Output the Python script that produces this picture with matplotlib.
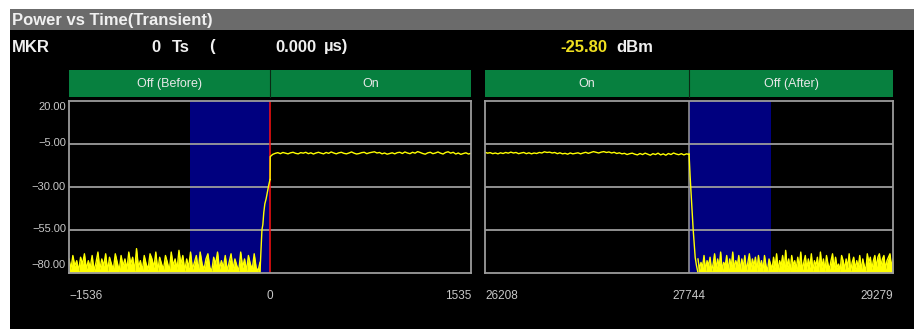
import numpy as np
import matplotlib
matplotlib.use("Agg")
from matplotlib import pyplot as plt
from matplotlib.patches import Rectangle

plt.rcParams['font.family'] = ['Liberation Sans', 'DejaVu Sans']

W, H = 914, 329

# ---- data -------------------------------------------------------------
title = "Power vs Time(Transient)"
mkr_ts = "0"
mkr_us = "0.000"
mkr_dbm = "-25.80"

y_ticks = [20.0, -5.0, -30.0, -55.0, -80.0]
left_span = (-1536, 1535)
right_span = (26208, 29279)
left_marker = 0
right_marker = 27744
left_mask = (-615, 0)
right_mask = (27744, 28360)
left_headers = ["Off (Before)", "On"]
right_headers = ["On", "Off (After)"]

# noise floor before burst (dBm)
left_noise = [
    -72, -78, -70, -76, -73, -79, -71, -75, -69, -78,
    -73, -77, -70, -79, -74, -68, -78, -72, -76, -69,
    -79, -71, -75, -78, -69, -74, -79, -70, -76, -72,
    -78, -68, -75, -71, -79, -66, -77, -73, -79, -70,
    -75, -78, -69, -72, -77, -68, -79, -71, -75, -78,
    -70, -74, -79, -68, -76, -72, -78, -67, -75, -70,
    -79, -72, -77, -68, -78, -74, -70, -79, -68, -75,
    -78, -72, -69, -77, -79, -71, -75, -68, -78, -73,
    -77, -70, -79, -74, -69, -78, -72, -76, -79, -68,
    -77, -72, -79, -70, -75, -78, -69, -77, -79, -74,
]
rise_x = [-77, -70, -62, -55, -48, -40, -30, -20, -10, -4, 0]
rise_y = [-80, -68, -55, -52, -45, -40, -37, -33, -29, -27, -25.8]
on_left = [
    -12.5, -11.2, -10.6, -10.2, -10.8, -10.1, -10.5, -10.9, -10.3, -10.0,
    -10.6, -10.9, -10.2, -10.5, -10.0, -10.8, -10.3, -11.0, -10.4, -10.0,
    -10.5, -10.9, -10.1, -10.6, -9.8, -10.4, -10.9, -10.3, -10.0, -10.6,
    -10.9, -10.4, -9.8, -10.5, -11.0, -10.7, -10.2, -10.0, -10.8, -10.3,
    -10.0, -9.7, -10.4, -10.1, -10.9, -10.4, -11.1, -10.7, -10.3, -10.9,
    -10.2, -10.0, -10.7, -9.8, -10.4, -10.8, -10.0, -10.5, -9.6, -10.1,
    -10.7, -11.1, -10.3, -10.0, -10.8, -10.4, -9.8, -10.5, -11.0, -10.1,
    -9.7, -10.5, -10.0, -11.0, -10.4, -11.2, -10.7, -10.3, -11.0, -10.6,
]
on_right = [
    -10.0, -10.5, -10.2, -10.8, -10.4, -10.9, -10.3, -10.7, -10.1, -10.5,
    -9.9, -10.4, -10.1, -10.8, -10.4, -10.1, -10.8, -10.3, -10.9, -10.4,
    -10.7, -10.1, -10.4, -9.7, -10.1, -9.9, -10.4, -10.1, -10.8, -10.3,
    -10.9, -10.6, -11.1, -10.4, -10.9, -10.6, -10.3, -10.9, -10.4, -10.0,
    -10.6, -10.1, -9.6, -10.0, -10.4, -9.9, -9.6, -10.1, -9.8, -10.4,
    -10.0, -10.7, -10.3, -10.9, -10.6, -11.3, -10.8, -10.5, -11.1, -11.5,
    -10.7, -11.3, -10.5, -11.1, -11.7, -10.8, -11.3, -10.5, -11.5, -10.9,
    -11.7, -10.7, -11.3, -10.4, -11.0, -11.4, -10.8, -11.5, -10.9, -11.2,
]
fall_x = [27744, 27752, 27760, 27775, 27790, 27800, 27811]
fall_y = [-11.0, -24, -35, -55, -71, -76, -80]
right_noise = [
    -72, -78, -74, -77, -70, -79, -73, -76, -71, -79,
    -75, -69, -78, -72, -77, -68, -79, -74, -76, -70,
    -79, -72, -77, -68, -78, -73, -76, -70, -79, -72,
    -77, -70, -79, -74, -69, -78, -72, -76, -71, -79,
    -70, -77, -73, -79, -70, -76, -79, -72, -75, -78,
    -71, -77, -69, -79, -73, -76, -70, -78, -67, -77,
    -72, -79, -70, -76, -73, -78, -71, -77, -68, -79,
    -74, -70, -78, -72, -77, -69, -79, -73, -76, -71,
    -79, -68, -77, -72, -79, -70, -75, -78, -73, -69,
    -78, -71, -77, -75, -79, -70, -73, -78, -72, -77,
    -69, -79, -74, -71, -78, -73, -77, -70, -79, -72,
    -76, -79, -69, -74, -71, -78, -73, -70, -77, -71,
    -69, -76, -72, -70, -78, -73, -71, -69, -77, -72,
]

# ---- figure -----------------------------------------------------------
fig = plt.figure(figsize=(W / 100, H / 100), dpi=100, facecolor='white')


def fx(x):
    return x / W


def fy(y):
    return 1 - y / H


def rect(x0, y0, x1, y1, color, z=-5):
    fig.patches.append(Rectangle((fx(x0), fy(y1)), fx(x1) - fx(x0), fy(y0) - fy(y1),
                                 transform=fig.transFigure, color=color, zorder=z, lw=0))


rect(10, 9, W, H, 'black', z=-10)
rect(10, 9, W, 30, '#6b6b6b')
txt = dict(color='#f0f0f0', fontsize=12, va='center', fontweight='bold')
fig.text(fx(12), fy(20), title, ha='left', **txt)

fig.text(fx(12), fy(47), "MKR", **txt)
fig.text(fx(161), fy(47), mkr_ts, ha='right', **txt)
fig.text(fx(172), fy(47), "Ts", **txt)
fig.text(fx(209), fy(47), "(", **txt)
fig.text(fx(275), fy(47), mkr_us, **txt)
fig.text(fx(324), fy(47), "\u00b5s)", **txt)
fig.text(fx(607), fy(47), mkr_dbm, ha='right', **{**txt, 'color': '#f0e020'})
fig.text(fx(616), fy(47), "dBm", **txt)

green = '#07803f'
grid_c = '#9c9c9c'
yellow = '#ffff00'


def panel(x0, x1, span, marker, mask, headers, mcolor, pieces, noise):
    ax = fig.add_axes([fx(x0), fy(272.7), fx(x1) - fx(x0), fy(100.7) - fy(272.7)])
    ax.set_zorder(5)
    ax.set_facecolor('black')
    ax.set_xlim(*span)
    ax.set_ylim(-80, 20)
    for t in y_ticks[1:-1]:
        ax.axhline(t, color=grid_c, lw=1.3, zorder=1)
    ax.axvspan(*mask, color='#00007f', lw=0, zorder=0)
    ax.axvline(marker, color=mcolor, lw=1.1, zorder=3)
    for xs, ys in pieces:
        ax.plot(xs, ys, color=yellow, lw=1.0, zorder=4)
    nxs, nys = noise
    ax.fill_between(nxs, -80, nys, color=yellow, lw=0, zorder=4)
    ax.plot(nxs, nys, color=yellow, lw=1.0, zorder=4)
    ax.set_xticks([])
    ax.set_yticks([])
    for s in ax.spines.values():
        s.set_color(grid_c)
        s.set_linewidth(1.3)
        s.set_zorder(6)
    # header bars
    xm = x0 + (x1 - x0) * (marker - span[0]) / (span[1] - span[0])
    rect(x0, 70, x1, 97, green)
    fig.add_artist(plt.Line2D([fx(xm), fx(xm)], [fy(70), fy(97)], color='#0a2a14', lw=0.8,
                              transform=fig.transFigure))
    fig.text(fx((x0 + xm) / 2), fy(84), headers[0], color='#e8e8e8', fontsize=9,
             ha='center', va='center')
    fig.text(fx((xm + x1) / 2), fy(84), headers[1], color='#e8e8e8', fontsize=9,
             ha='center', va='center')
    # x labels
    lab = '#c8c8c8'
    fig.text(fx(x0), fy(296), str(span[0]).replace('-', '\u2212'), color=lab, fontsize=8.5,
             ha='left', va='center')
    fig.text(fx(xm), fy(296), str(marker), color=lab, fontsize=8.5, ha='center', va='center')
    fig.text(fx(x1), fy(296), str(span[1]), color=lab, fontsize=8.5, ha='right', va='center')
    return ax


lx = np.linspace(left_span[0], rise_x[0], len(left_noise))
ox = np.linspace(1, left_span[1], len(on_left))
panel(69, 471, left_span, left_marker, left_mask, left_headers, '#ff1010',
      [(rise_x, rise_y), ([0] + list(ox), [rise_y[-1]] + on_left)],
      (lx, left_noise))

rx = np.linspace(right_span[0], fall_x[0], len(on_right))
nx = np.linspace(fall_x[-1], right_span[1], len(right_noise))
panel(485, 893, right_span, right_marker, right_mask, right_headers, grid_c,
      [(rx, on_right), (fall_x, fall_y)],
      (nx, right_noise))

# y labels on the left panel
ypix = [106.5, 143.3, 186.7, 229.3, 265.5]
for v, yp in zip(y_ticks, ypix):
    s = f"{v:.2f}".replace('-', '\u2212')
    fig.text(fx(66), fy(yp), s, color='#c8c8c8', fontsize=8, ha='right', va='center')

fig.savefig("out.png", dpi=100, facecolor=fig.get_facecolor())
